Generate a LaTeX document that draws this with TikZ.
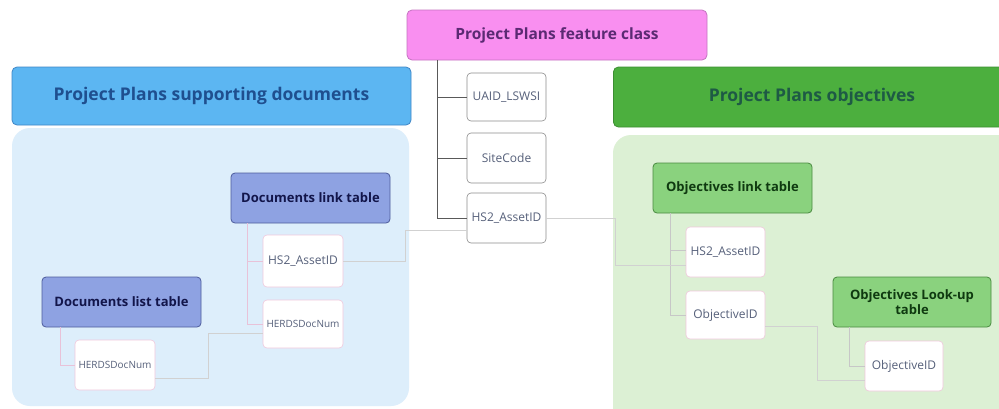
\documentclass[tikz,border=0pt]{standalone}
\usepackage{fontspec}
\setmainfont{Open Sans}
\begin{document}
\begin{tikzpicture}[x=1pt,y=1pt,
  hdr/.style={draw, rounded corners=5pt, line width=0.8pt, font=\bfseries\fontsize{17.5}{20}\selectfont, inner sep=0pt},
  tbl/.style={draw, rounded corners=4pt, line width=0.8pt, font=\bfseries\fontsize{13}{15}\selectfont, inner sep=0pt, align=center, minimum width=159pt, minimum height=50pt},
  fld/.style={draw, rounded corners=4pt, line width=0.6pt, fill=white, font=\fontsize{12}{14}\selectfont, text=fldtext, inner sep=0pt, minimum width=80pt, minimum height=50pt},
  trunk/.style={draw=black!65, line width=1pt},
  pinkln/.style={draw=pinkline, line width=1pt},
  grayln/.style={draw=black!22, line width=1pt},
  xln/.style={draw=black!18, line width=1pt}
]
\definecolor{pinkfill}{HTML}{F98FF0}
\definecolor{pinkdraw}{HTML}{C474C0}
\definecolor{pinktext}{HTML}{5B2A73}
\definecolor{bluefill}{HTML}{5CB6F2}
\definecolor{bluedraw}{HTML}{3F86C6}
\definecolor{bluetext}{HTML}{1F4F8F}
\definecolor{bluepanel}{HTML}{DDEEFB}
\definecolor{greenfill}{HTML}{4CAF3E}
\definecolor{greendraw}{HTML}{3C8E32}
\definecolor{greentext}{HTML}{1E5A45}
\definecolor{greenpanel}{HTML}{DCF0D4}
\definecolor{dtfill}{HTML}{8EA2E2}
\definecolor{dtdraw}{HTML}{4D5C9C}
\definecolor{dttext}{HTML}{12154A}
\definecolor{otfill}{HTML}{8AD27E}
\definecolor{otdraw}{HTML}{4A8A40}
\definecolor{ottext}{HTML}{0F3A10}
\definecolor{fldtext}{HTML}{56607A}
\definecolor{pinkline}{HTML}{E8C2D8}
\definecolor{pinkbox}{HTML}{F0C8DC}

\useasboundingbox (0,0) rectangle (999,-408);
\fill[white] (0,0) rectangle (999,-408);

% panels
\fill[bluepanel, rounded corners=18pt] (12,-128) rectangle (409,-406);
\fill[greenpanel, rounded corners=18pt] (613,-135) rectangle (1020,-430);

% headers
\node[hdr, fill=pinkfill, draw=pinkdraw, text=pinktext, font=\bfseries\fontsize{15.5}{18}\selectfont, minimum width=300pt, minimum height=50pt] (fc) at (557,-35) {Project Plans feature class};
\node[hdr, fill=bluefill, draw=bluedraw, text=bluetext, minimum width=399pt, minimum height=58pt] (bh) at (211.5,-96) {Project Plans supporting documents};
\node[hdr, fill=greenfill, draw=greendraw, text=greentext, minimum width=396pt, minimum height=60pt, anchor=west] (gh) at (613,-97) {\hspace*{0pt}};
\node[text=greentext, font=\bfseries\fontsize{17.5}{20}\selectfont] (ght) at (812,-97) {Project Plans objectives};

% centre fields
\node[fld, draw=black!45, minimum width=79pt, minimum height=48pt] (uaid) at (506.5,-97) {UAID\_LSWSI};
\node[fld, draw=black!45, minimum width=79pt] (site) at (506.5,-158) {SiteCode};
\node[fld, draw=black!45, minimum width=79pt] (hs2) at (506.5,-218) {HS2\_AssetID};

% documents
\node[tbl, fill=dtfill, draw=dtdraw, text=dttext] (dlt) at (310.5,-198) {Documents link table};
\node[fld, draw=pinkbox, minimum height=52pt] (dhs2) at (303,-261) {HS2\_AssetID};
\node[fld, draw=pinkbox, minimum height=48pt, font=\fontsize{10}{12}\selectfont] (dherds) at (303,-324) {HERDSDocNum};
\node[tbl, fill=dtfill, draw=dtdraw, text=dttext] (dls) at (121.5,-302) {Documents list table};
\node[fld, draw=pinkbox, font=\fontsize{10}{12}\selectfont] (lherds) at (115,-365) {HERDSDocNum};

% objectives
\node[tbl, fill=otfill, draw=otdraw, text=ottext] (olt) at (732.5,-188) {Objectives link table};
\node[fld, draw=pinkbox, minimum width=79pt] (ohs2) at (725.5,-252) {HS2\_AssetID};
\node[fld, draw=pinkbox, minimum width=79pt, minimum height=48pt] (oobj) at (725.5,-315) {ObjectiveID};
\node[tbl, fill=otfill, draw=otdraw, text=ottext, minimum width=158pt] (lut) at (912,-302) {Objectives Look-up\\table};
\node[fld, draw=pinkbox, minimum width=78pt] (lobj) at (904,-366) {ObjectiveID};

% trunk of feature class
\coordinate (ct) at (437,-60);
\draw[trunk] (ct) |- (uaid.west);
\draw[trunk] (ct) |- (site.west);
\draw[trunk] (ct) |- (hs2.west);

% documents trees
\coordinate (dt) at (247,-223);
\draw[pinkln] (dt) |- (dhs2.west);
\draw[pinkln] (dt) |- (dherds.west);
\coordinate (lt) at (60,-327);
\draw[pinkln] (lt) |- (lherds.west);

% objectives trees
\coordinate (ot) at (670,-213);
\draw[grayln] (ot) |- ([yshift=2pt]ohs2.west);
\draw[grayln] (ot) |- (oobj.west);
\coordinate (ut) at (849,-327);
\draw[grayln] (ut) |- (lobj.west);

% cross links
\coordinate (c1) at (405,-230);
\draw[xln] ([yshift=-12pt]hs2.west) -- (c1) |- (dhs2.east);
\coordinate (c2) at (208,-378);
\draw[xln] ([yshift=-13pt]lherds.east) -- (c2) |- ([yshift=-9pt]dherds.west);
\coordinate (c3) at (615,-218);
\draw[xln] (hs2.east) -- (c3) |- ([yshift=-13pt]ohs2.west);
\coordinate (c4) at (817,-326);
\draw[xln] ([yshift=-11pt]oobj.east) -- (c4) |- ([yshift=-14pt]lobj.west);
\end{tikzpicture}
\end{document}
